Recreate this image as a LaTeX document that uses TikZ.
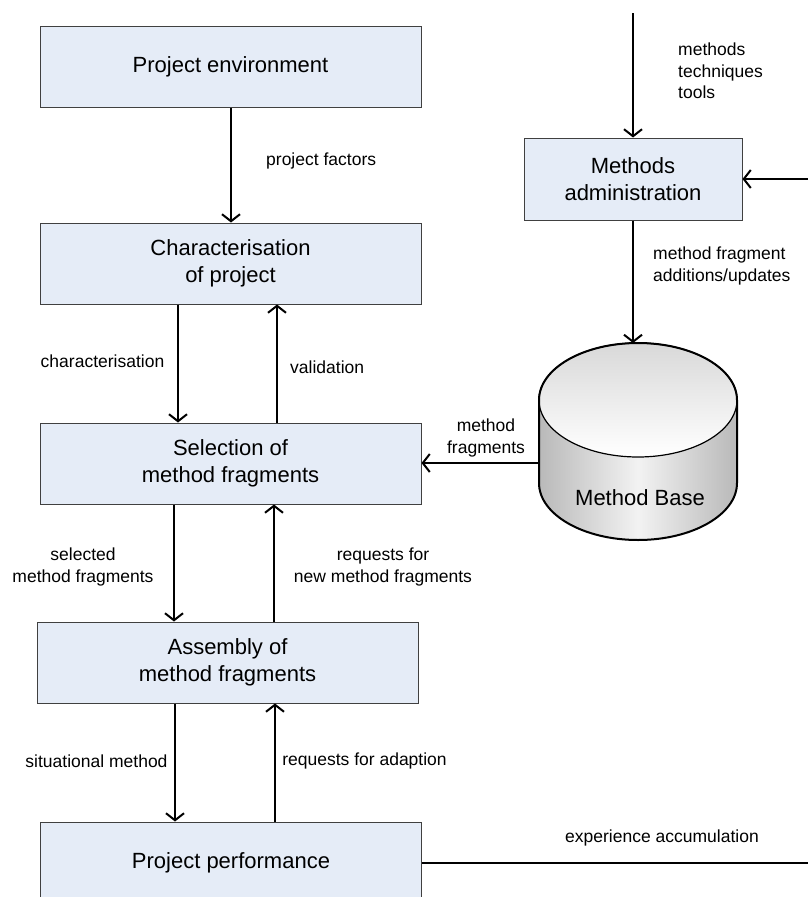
\documentclass[tikz,border=0pt]{standalone}
\usepackage{fontspec}
\setmainfont{Liberation Sans}
\usetikzlibrary{arrows.meta}
\definecolor{boxfill}{HTML}{E5ECF7}
\definecolor{boxline}{HTML}{404040}
\tikzset{
  procbox/.style={draw=boxline, line width=1pt, fill=boxfill, inner sep=0pt,
    minimum width=381pt, minimum height=81pt, align=center,
    font=\fontsize{22}{27}\selectfont},
  flow/.style={line width=2pt, -{Straight Barb[length=7pt,width=18pt]}},
  lbl/.style={inner sep=0pt, font=\fontsize{17.5}{21.5}\selectfont},
}
\begin{document}
\begin{tikzpicture}[x=1pt, y=1pt]
\useasboundingbox (0,0) rectangle (808,-897);
\clip (0,0) rectangle (808,-897);

% process boxes
\node[procbox] (env)  at (230.5,-66.5)  {Project environment};
\node[procbox] (char) at (230.5,-263.5) {Characterisation\\of project};
\node[procbox] (sel)  at (230.5,-463.5) {Selection of\\method fragments};
\node[procbox] (asm)  at (227.5,-662.5) {Assembly of\\method fragments};
\node[procbox] (perf) at (231,-862.5)   {Project performance};
\node[procbox, minimum width=218pt, minimum height=82pt] (admin) at (633,-179) {Methods\\administration};

% method base cylinder
\shade[left color=gray!55, right color=gray!55, middle color=gray!10]
  (539,-400) -- (539,-483)
  arc[start angle=180, end angle=360, x radius=99pt, y radius=57pt]
  -- (737,-400)
  arc[start angle=0, end angle=180, x radius=99pt, y radius=57pt] -- cycle;
\shade[top color=gray!30, bottom color=white]
  (638,-400) ellipse[x radius=99pt, y radius=57pt];
\draw[line width=1.2pt] (638,-400) ellipse[x radius=99pt, y radius=57pt];
\draw[line width=2pt]
  (539,-400) -- (539,-483)
  arc[start angle=180, end angle=360, x radius=99pt, y radius=57pt]
  -- (737,-400)
  arc[start angle=0, end angle=180, x radius=99pt, y radius=57pt] -- cycle;
\node[font=\fontsize{22}{27}\selectfont, inner sep=0pt] (mb) at (640,-498) {Method Base};
\coordinate (mbTop)  at (638,-343);
\coordinate (mbLeft) at (539,-463);

% free ends
\coordinate (src) at (633,-13);
\coordinate (rc)  at (830,-179);

% connectors
\draw[flow] (env.south -| 231,0) -- (char.north -| 231,0);
\draw[flow] (char.south -| 178,0) -- (sel.north -| 178,0);
\draw[flow] (sel.north -| 277,0) -- (char.south -| 277,0);
\draw[flow] (sel.south -| 174,0) -- (asm.north -| 174,0);
\draw[flow] (asm.north -| 274,0) -- (sel.south -| 274,0);
\draw[flow] (asm.south -| 175,0) -- (perf.north -| 175,0);
\draw[flow] (perf.north -| 275,0) -- (asm.south -| 275,0);
\draw[flow] (src) -- (admin.north);
\draw[flow] (admin.south) -- (admin.south |- mbTop);
\draw[flow] (mbLeft) -- (sel.east |- mbLeft);
\draw[flow] (perf.east) -| (rc) -- (admin.east);

% connector labels
\node[lbl, anchor=west] (lpf) at (266,-161) {project factors};
\node[lbl] (lch) at (102.5,-361) {characterisation};
\node[lbl, anchor=west] (lva) at (290,-367) {validation};
\node[lbl, align=center] (lsel) at (83,-567) {selected\\method fragments};
\node[lbl, align=center] (lreq) at (383,-567) {requests for\\new method fragments};
\node[lbl] (lsit) at (96.5,-761) {situational method};
\node[lbl] (lada) at (364.5,-761) {requests for adaption};
\node[lbl] (lexp) at (662,-838) {experience accumulation};
\node[lbl, anchor=west, align=left] (lmtt) at (678,-71) {methods\\techniques\\tools};
\node[lbl, anchor=west, align=left] (lmfa) at (653,-266) {method fragment\\additions/updates};
\node[lbl, align=center] (lmf) at (486,-438) {method\\fragments};
\end{tikzpicture}
\end{document}
